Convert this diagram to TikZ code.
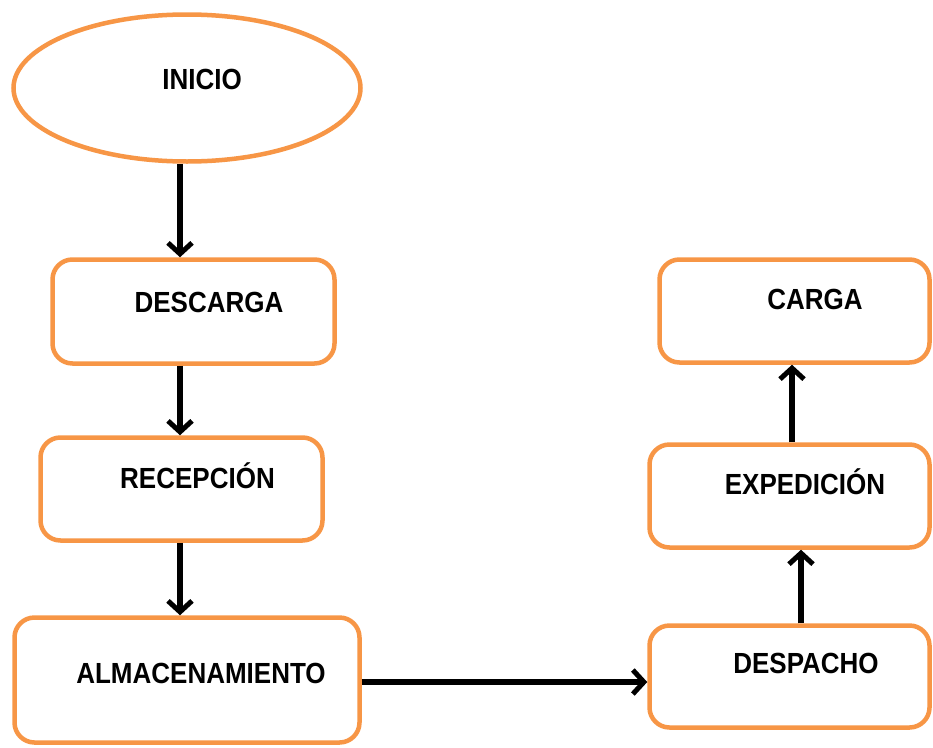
\documentclass[tikz,border=0pt]{standalone}
\usepackage{fontspec}
\setmainfont{Liberation Sans}
\usetikzlibrary{shapes.geometric,arrows.meta}
\definecolor{boxorange}{HTML}{F79646}
\tikzset{
  procbox/.style={draw=boxorange, line width=4.5pt, rounded corners=20pt, fill=white, inner sep=0pt},
  startell/.style={draw=boxorange, line width=4.5pt, ellipse, fill=white, inner sep=0pt},
  lbl/.style={font=\fontsize{26}{30}\selectfont\bfseries, inner sep=0pt, text height=21pt, text depth=0pt, anchor=center},
  arr/.style={line width=5.5pt, -{Straight Barb[length=11pt,width=24pt,line width=5pt]}}
}
\newcommand{\tallt}[1]{\scalebox{1}[1.12]{#1}}
\begin{document}
\begin{tikzpicture}[x=1pt,y=-1pt]
\useasboundingbox (0,0) rectangle (933,747);
\node[startell, minimum width=347pt, minimum height=147pt] (inicio) at (187,88) {};
\node[procbox, minimum width=282pt, minimum height=104pt] (descarga) at (193.5,311.5) {};
\node[procbox, minimum width=282pt, minimum height=103pt] (recepcion) at (181.5,489) {};
\node[procbox, minimum width=345pt, minimum height=125pt] (almacen) at (187,680) {};
\node[procbox, minimum width=280pt, minimum height=102pt] (despacho) at (789.5,676.5) {};
\node[procbox, minimum width=280pt, minimum height=103pt] (expedicion) at (789.5,496) {};
\node[procbox, minimum width=270pt, minimum height=103pt] (carga) at (794.5,311) {};

\node[lbl] (tinicio) at (202,79) {\tallt{INICIO}};
\node[lbl] (tdescarga) at (209,302) {\tallt{DESCARGA}};
\node[lbl] (trecepcion) at (197.5,478) {\tallt{RECEPCIÓN}};
\node[lbl] (talmacen) at (201,673) {\tallt{ALMACENAMIENTO}};
\node[lbl] (tdespacho) at (806,663) {\tallt{DESPACHO}};
\node[lbl] (texpedicion) at (805,484) {\tallt{EXPEDICIÓN}};
\node[lbl] (tcarga) at (815,299) {\tallt{CARGA}};

\draw[arr] ([xshift=-7pt]inicio.south) -- ([xshift=-13.5pt]descarga.north);
\draw[arr] ([xshift=-13.5pt]descarga.south) -- ([xshift=-1.5pt]recepcion.north);
\draw[arr] ([xshift=-1.5pt]recepcion.south) -- ([xshift=-7pt]almacen.north);
\draw[arr] ([yshift=-2pt]almacen.east) -- ([yshift=-5.5pt]despacho.west);
\draw[arr] ([xshift=11.5pt]despacho.north) -- ([xshift=11.5pt]expedicion.south);
\draw[arr] ([xshift=2.5pt]expedicion.north) -- ([xshift=-2.5pt]carga.south);
\end{tikzpicture}
\end{document}
